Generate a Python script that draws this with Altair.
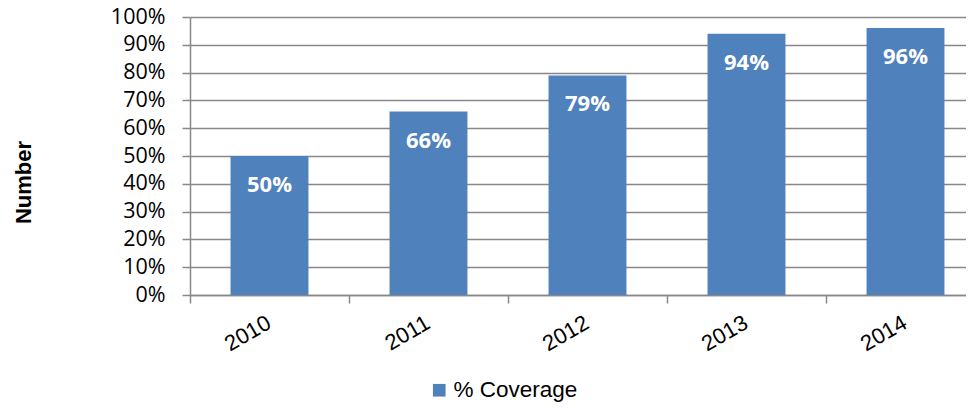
import altair as alt
import pandas as pd

years = ["2010", "2011", "2012", "2013", "2014"]
coverage = [0.50, 0.66, 0.79, 0.94, 0.96]
series_name = "% Coverage"
y_ticks = [0.0, 0.1, 0.2, 0.3, 0.4, 0.5, 0.6, 0.7, 0.8, 0.9, 1.0]

df = pd.DataFrame({"year": years, "value": coverage, "series": [series_name] * len(years)})

grey = "#888888"

x_scale = alt.Scale(paddingInner=0, paddingOuter=0, range=[0, 795])
y_scale = alt.Scale(domain=[0, 1])

x_axis = alt.Axis(labelAngle=-30, labelFont="Liberation Sans", labelFontSize=22,
                  labelColor="#000000", labelPadding=9, labelOffset=-6, tickBand="extent",
                  tickSize=8, tickColor=grey, tickWidth=1.5, domainColor=grey,
                  domainWidth=1.5, grid=False,
                  labelAlign="right", labelBaseline="top")
y_axis = alt.Axis(format=".0%", values=y_ticks, tickCount=11,
                  labelOverlap=False,
                  labelFont="Open Sans", labelFontSize=21.5, labelColor="#000000",
                  labelPadding=17, tickSize=8, tickColor=grey, tickWidth=1.5,
                  domainColor=grey, domainWidth=1.5,
                  gridColor=grey, gridWidth=1.5,
                  titleFont="Liberation Sans", titleFontSize=22, titleFontWeight="bold",
                  titleColor="#000000", titleX=-160, titleY=165,
                  titleAlign="center", titleBaseline="alphabetic")

base = alt.Chart(df)

bars = base.mark_bar(color="#4F81BD", width=alt.RelativeBandSize(0.49)).encode(
    x=alt.X("year:N", sort=years, title=None, scale=x_scale, axis=x_axis),
    y=alt.Y("value:Q", title="Number", scale=y_scale, axis=y_axis),
    fill=alt.Fill("series:N", scale=alt.Scale(range=["#4F81BD"]),
                  legend=alt.Legend(title=None, orient="none", legendX=238, legendY=362,
                                    symbolType="square", symbolSize=160, symbolStrokeWidth=0,
                                    labelFont="Liberation Sans", labelFontSize=22.5,
                                    labelColor="#000000", labelOffset=3)),
)

labels = base.mark_text(color="white", font="Open Sans", fontWeight="bold", fontSize=22,
                        baseline="middle", dy=29).encode(
    x=alt.X("year:N", sort=years, title=None, scale=x_scale, axis=x_axis),
    y=alt.Y("value:Q", title="Number", scale=y_scale, axis=y_axis),
    text=alt.Text("value:Q", format=".0%"),
)

chart = (bars + labels).properties(
    width=776, height=278,
    autosize="none",
    padding={"left": 182, "top": 9, "right": 0, "bottom": 109},
).configure_view(stroke=None)

chart.save("out.html", embed_options={"renderer": "svg", "actions": False})
